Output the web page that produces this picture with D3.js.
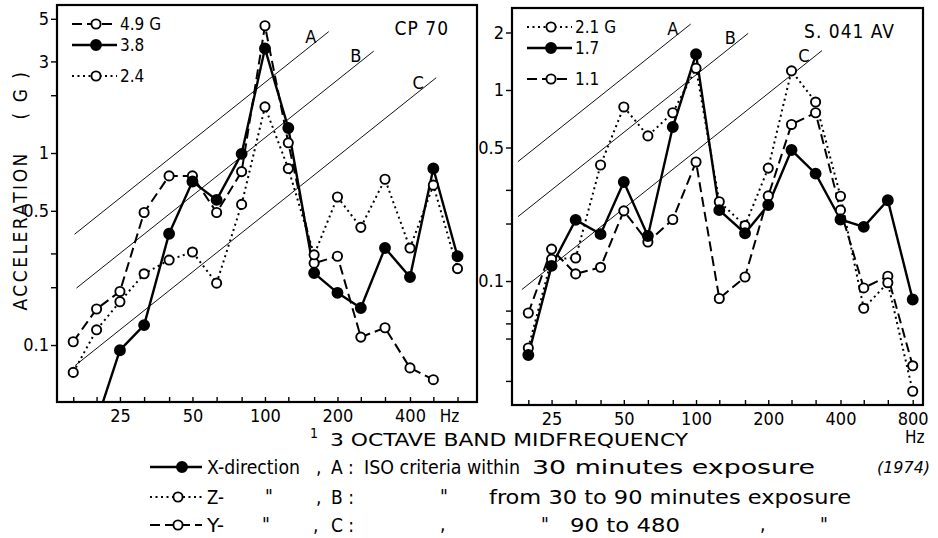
<!DOCTYPE html>
<html>
<head>
<meta charset="utf-8">
<script src="https://cdn.jsdelivr.net/npm/d3@7"></script>
<style>
  body { margin: 0; background: #fff; }
  svg { display: block; font-family: 'Liberation Sans Narrow', 'DejaVu Sans Condensed', 'Roboto', sans-serif; }
</style>
</head>
<body>
<svg id="chart" width="938" height="538"></svg>
<script>
// 1/3 octave band midfrequencies (Hz)
const cpFreqs = [16, 20, 25, 31.5, 40, 50, 63, 80, 100, 125, 160, 200, 250, 315, 400, 500, 630]
const avFreqs = [20, 25, 31.5, 40, 50, 63, 80, 100, 125, 160, 200, 250, 315, 400, 500, 630, 800]

// CP 70 accelerations (G)
const cpX = [null, 0.04, 0.094, 0.127, 0.38, 0.71, 0.57, 0.99, 3.5, 1.35, 0.237, 0.187, 0.156, 0.32, 0.226, 0.83, 0.29]
const cpZ = [0.072, 0.12, 0.168, 0.235, 0.277, 0.305, 0.21, 0.54, 1.74, 0.83, 0.295, 0.59, 0.41, 0.73, 0.32, 0.68, 0.25]
const cpY = [0.104, 0.154, 0.19, 0.49, 0.76, 0.76, 0.49, 0.8, 4.6, 1.13, 0.267, 0.29, 0.11, 0.123, 0.076, 0.066, null]

// S. 041 AV accelerations (G)
const avX = [0.041, 0.12, 0.209, 0.176, 0.33, 0.172, 0.64, 1.54, 0.235, 0.178, 0.25, 0.485, 0.365, 0.21, 0.192, 0.265, 0.08]
const avZ = [0.0446, 0.13, 0.132, 0.405, 0.815, 0.575, 0.76, 1.3, 0.26, 0.195, 0.39, 1.26, 0.865, 0.278, 0.072, 0.098, 0.0265]
const avY = [0.068, 0.147, 0.109, 0.118, 0.233, 0.16, 0.21, 0.42, 0.081, 0.105, 0.279, 0.66, 0.76, 0.235, 0.092, 0.106, 0.036]

// overall levels printed in the panel legends
const cpLegendKeys = ['y', 'x', 'z']
const cpLegendLabels = ['4.9 G', '3.8', '2.4']
const avLegendKeys = ['z', 'x', 'y']
const avLegendLabels = ['2.1 G', '1.7', '1.1']

// ISO criteria lines: acceleration = slope * frequency
const criteriaNames = ['A', 'B', 'C']
const criteriaSlopes = [0.0233, 0.012, 0.0048]
const cpCriteriaFrom = [16.2, 16.5, 16.3]
const cpCriteriaTo = [184, 283, 514]
const avCriteriaFrom = [18.1, 18.1, 18.8]
const avCriteriaTo = [95, 165, 335]

// tick labels
const cpXTickLabels = [25, 50, 100, 200, 400]
const avXTickLabels = [25, 50, 100, 200, 400, 800]
const cpYTickLabels = [0.1, 0.5, 1, 3, 5]
const cpYMinorTicks = [0.2, 0.3, 2]
const avYTickLabels = [0.1, 0.5, 1, 2]
const avYMinorTicks = [0.03, 0.05, 0.06, 0.07, 0.2, 0.3]

const SERIES_STYLES = {
  x: { dash: null, filled: true },
  z: { dash: '2,3.5', filled: false },
  y: { dash: '10,5', filled: false }
}

const PANELS = [
  {
    id: 'cp70',
    title: 'CP 70',
    frame: { left: 57, top: 5, right: 477, bottom: 402 },
    xDomain: [13.7, 759],
    yDomain: [0.0505, 5.9],
    freqs: cpFreqs,
    series: { x: cpX, z: cpZ, y: cpY },
    legendKeys: cpLegendKeys,
    legendLabels: cpLegendLabels,
    criteriaFrom: cpCriteriaFrom,
    criteriaTo: cpCriteriaTo,
    xTickLabels: cpXTickLabels,
    yTickLabels: cpYTickLabels,
    yMinorTicks: cpYMinorTicks,
    hzBelow: false
  },
  {
    id: 'av041',
    title: 'S. 041 AV',
    frame: { left: 512, top: 8, right: 923, bottom: 405 },
    xDomain: [17.1, 883],
    yDomain: [0.02244, 2.687],
    freqs: avFreqs,
    series: { x: avX, z: avZ, y: avY },
    legendKeys: avLegendKeys,
    legendLabels: avLegendLabels,
    criteriaFrom: avCriteriaFrom,
    criteriaTo: avCriteriaTo,
    xTickLabels: avXTickLabels,
    yTickLabels: avYTickLabels,
    yMinorTicks: avYMinorTicks,
    hzBelow: true
  }
]

const svg = d3.select('#chart')

PANELS.forEach(panel => renderPanel(svg, panel))
renderAxisTitles(svg)
renderBottomLegend(svg)

function renderPanel (svg, panel) {
  const { frame } = panel
  const xScale = d3.scaleLog().domain(panel.xDomain).range([frame.left, frame.right])
  const yScale = d3.scaleLog().domain(panel.yDomain).range([frame.bottom, frame.top])

  const group = svg.append('g').attr('class', `panel panel-${panel.id}`)
  const clipId = `clip-${panel.id}`

  group.append('clipPath')
    .attr('id', clipId)
    .append('rect')
    .attr('x', frame.left)
    .attr('y', frame.top)
    .attr('width', frame.right - frame.left)
    .attr('height', frame.bottom - frame.top)

  const plot = group.append('g').attr('clip-path', `url(#${clipId})`)

  // criteria lines A, B, C
  const criteria = criteriaNames.map((name, i) => ({
    name,
    from: panel.criteriaFrom[i],
    to: panel.criteriaTo[i],
    slope: criteriaSlopes[i]
  }))

  plot.selectAll('line.criteria')
    .data(criteria)
    .join('line')
    .attr('class', 'criteria')
    .attr('x1', d => xScale(d.from))
    .attr('y1', d => yScale(d.slope * d.from))
    .attr('x2', d => xScale(d.to))
    .attr('y2', d => yScale(d.slope * d.to))
    .attr('stroke', '#111')
    .attr('stroke-width', 1)

  group.selectAll('text.criteria-label')
    .data(criteria)
    .join('text')
    .attr('class', 'criteria-label')
    .attr('x', d => xScale(d.to) - 18)
    .attr('y', d => yScale(d.slope * d.to) + 11)
    .attr('text-anchor', 'middle')
    .attr('font-size', 18)
    .text(d => d.name)

  // measured series
  const line = d3.line()
    .defined(d => d.value != null)
    .x(d => xScale(d.freq))
    .y(d => yScale(d.value))

  const seriesKeys = ['y', 'z', 'x']
  seriesKeys.forEach(key => {
    const style = SERIES_STYLES[key]
    const points = panel.freqs.map((freq, i) => ({ freq, value: panel.series[key][i] }))

    plot.append('path')
      .datum(points)
      .attr('class', `series series-${key}`)
      .attr('fill', 'none')
      .attr('stroke', '#000')
      .attr('stroke-width', key === 'x' ? 2.4 : 2)
      .attr('stroke-dasharray', style.dash)
      .attr('d', line)
  })

  seriesKeys.forEach(key => {
    const style = SERIES_STYLES[key]
    const points = panel.freqs
      .map((freq, i) => ({ freq, value: panel.series[key][i] }))
      .filter(d => d.value != null)

    plot.selectAll(`circle.marker-${key}`)
      .data(points)
      .join('circle')
      .attr('class', `marker-${key}`)
      .attr('cx', d => xScale(d.freq))
      .attr('cy', d => yScale(d.value))
      .attr('r', style.filled ? 5 : 4.6)
      .attr('fill', style.filled ? '#000' : '#fff')
      .attr('stroke', '#000')
      .attr('stroke-width', 1.9)
  })

  // frame
  group.append('rect')
    .attr('x', frame.left)
    .attr('y', frame.top)
    .attr('width', frame.right - frame.left)
    .attr('height', frame.bottom - frame.top)
    .attr('fill', 'none')
    .attr('stroke', '#000')
    .attr('stroke-width', 2.2)

  // axes
  const xAxis = d3.axisBottom(xScale)
    .tickValues(panel.freqs)
    .tickSizeInner(-5)
    .tickSizeOuter(0)
    .tickPadding(7)
    .tickFormat(d => panel.xTickLabels.includes(d) ? d : '')

  const xAxisGroup = group.append('g')
    .attr('class', 'axis axis-x')
    .attr('transform', `translate(0, ${frame.bottom})`)
    .call(xAxis)

  const yAxis = d3.axisLeft(yScale)
    .tickValues([...panel.yTickLabels, ...panel.yMinorTicks])
    .tickSizeInner(6)
    .tickSizeOuter(0)
    .tickPadding(2)
    .tickFormat(d => panel.yTickLabels.includes(d) ? d3.format('~g')(d) : '')

  const yAxisGroup = group.append('g')
    .attr('class', 'axis axis-y')
    .attr('transform', `translate(${frame.left}, 0)`)
    .call(yAxis)

  ;[xAxisGroup, yAxisGroup].forEach(axisGroup => {
    axisGroup.attr('font-family', null).attr('font-size', null)
    axisGroup.select('.domain').remove()
    axisGroup.selectAll('.tick line').attr('stroke-width', 1.4)
    axisGroup.selectAll('.tick text').attr('font-size', 18).attr('fill', '#000')
  })

  const lastFreq = panel.freqs[panel.freqs.length - 1]
  group.append('text')
    .attr('x', panel.hzBelow ? xScale(lastFreq) + 2 : xScale(lastFreq) - 8)
    .attr('y', panel.hzBelow ? frame.bottom + 38 : frame.bottom + 20)
    .attr('text-anchor', 'middle')
    .attr('font-size', 17)
    .text('Hz')

  // title
  group.append('text')
    .attr('x', frame.right - 28)
    .attr('y', frame.top + 30)
    .attr('text-anchor', 'end')
    .attr('font-size', 19)
    .attr('letter-spacing', 1)
    .text(panel.title)

  // panel legend
  const legendRowsY = [frame.top + 19, frame.top + 40, frame.top + 71]
  const legendRows = panel.legendKeys.map((key, i) => ({ key, label: panel.legendLabels[i], y: legendRowsY[i] }))

  const legend = group.selectAll('g.legend-row')
    .data(legendRows)
    .join('g')
    .attr('class', 'legend-row')
    .attr('transform', d => `translate(${frame.left + 15}, ${d.y})`)

  legend.each(function (d) {
    drawLegendSymbol(d3.select(this), d.key, 0, 45, 24)
  })

  legend.append('text')
    .attr('x', 48)
    .attr('y', 6)
    .attr('font-size', 17)
    .text(d => d.label)
}

function drawLegendSymbol (g, key, x0, x1, cx) {
  const style = SERIES_STYLES[key]
  g.append('line')
    .attr('x1', x0)
    .attr('x2', x1)
    .attr('y1', 0)
    .attr('y2', 0)
    .attr('stroke', '#000')
    .attr('stroke-width', key === 'x' ? 2.4 : 2)
    .attr('stroke-dasharray', style.dash)
  g.append('circle')
    .attr('cx', cx)
    .attr('cy', 0)
    .attr('r', style.filled ? 5 : 4.6)
    .attr('fill', style.filled ? '#000' : '#fff')
    .attr('stroke', '#000')
    .attr('stroke-width', 1.9)
}

function renderAxisTitles (svg) {
  svg.append('text')
    .attr('transform', 'translate(27, 190) rotate(-90)')
    .attr('text-anchor', 'middle')
    .attr('font-size', 19)
    .attr('letter-spacing', 2.5)
    .attr('xml:space', 'preserve')
    .text('ACCELERATION    ( G )')

  svg.append('text')
    .attr('x', 314)
    .attr('y', 438)
    .attr('text-anchor', 'middle')
    .attr('font-size', 14)
    .text('1')

  svg.append('text')
    .attr('x', 330)
    .attr('y', 446)
    .attr('font-size', 18)
    .attr('textLength', 358)
    .attr('lengthAdjust', 'spacingAndGlyphs')
    .text('3 OCTAVE BAND MIDFREQUENCY')
}

function renderBottomLegend (svg) {
  const rows = [
    { key: 'x', y: 467, name: 'X-direction', nameLength: 93 },
    { key: 'z', y: 497, name: 'Z-', nameLength: 17 },
    { key: 'y', y: 525, name: 'Y-', nameLength: 17 }
  ]

  rows.forEach(row => {
    const g = svg.append('g').attr('transform', `translate(150, ${row.y})`)
    drawLegendSymbol(g, row.key, 0, 52, row.key === 'x' ? 32 : 28)
    g.append('text')
      .attr('x', 57)
      .attr('y', 7)
      .attr('font-size', 19)
      .attr('textLength', row.nameLength)
      .attr('lengthAdjust', 'spacingAndGlyphs')
      .text(row.name)
  })

  const texts = [
    { x: 316, y: 474, t: ',' },
    { x: 331, y: 474, t: 'A :' },
    { x: 364, y: 474, t: 'ISO criteria within', len: 156 },
    { x: 532, y: 474, t: '30 minutes exposure', len: 283 },
    { x: 877, y: 473, t: '(1974)', len: 53, italic: true, size: 15 },
    { x: 265, y: 503, t: '"' },
    { x: 316, y: 504, t: ',' },
    { x: 331, y: 504, t: 'B :' },
    { x: 440, y: 503, t: '"' },
    { x: 489, y: 504, t: 'from 30 to 90 minutes exposure', len: 362 },
    { x: 262, y: 531, t: '"' },
    { x: 313, y: 532, t: ',' },
    { x: 331, y: 532, t: 'C :' },
    { x: 440, y: 531, t: ',' },
    { x: 541, y: 531, t: '"' },
    { x: 570, y: 532, t: '90 to 480', len: 110 },
    { x: 760, y: 531, t: ',' },
    { x: 820, y: 531, t: '"' }
  ]

  svg.selectAll('text.bottom-legend')
    .data(texts)
    .join('text')
    .attr('class', 'bottom-legend')
    .attr('x', d => d.x)
    .attr('y', d => d.y)
    .attr('font-size', d => d.size || 19)
    .attr('font-style', d => d.italic ? 'italic' : null)
    .attr('textLength', d => d.len || null)
    .attr('lengthAdjust', d => d.len ? 'spacingAndGlyphs' : null)
    .text(d => d.t)
}
</script>
</body>
</html>
